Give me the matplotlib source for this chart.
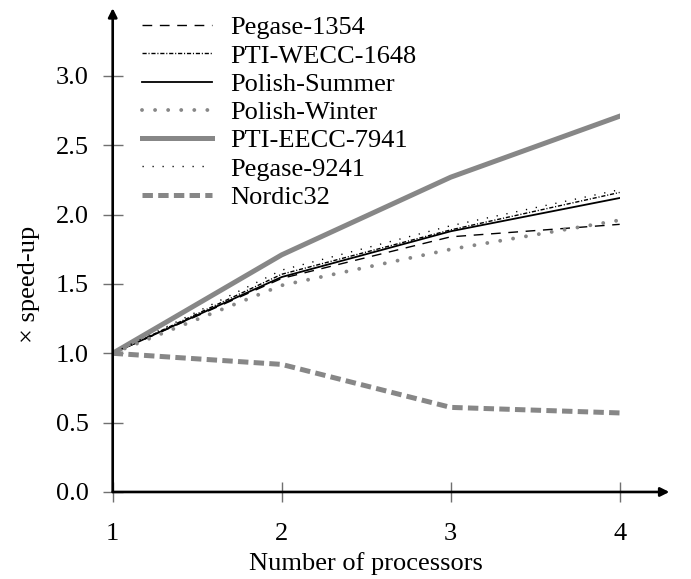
import matplotlib
matplotlib.use("Agg")
import matplotlib.pyplot as plt

plt.rcParams['font.family'] = ['Liberation Serif', 'DejaVu Serif']
plt.rcParams['lines.scale_dashes'] = False

procs = [1, 2, 3, 4]
pegase_1354 = [1.0, 1.54, 1.84, 1.93]
pti_wecc_1648 = [1.0, 1.57, 1.89, 2.16]
polish_summer = [1.0, 1.55, 1.88, 2.12]
polish_winter = [1.0, 1.49, 1.75, 1.96]
pti_eecc_7941 = [1.0, 1.71, 2.27, 2.71]
pegase_9241 = [1.0, 1.60, 1.92, 2.18]
nordic32 = [1.0, 0.92, 0.61, 0.57]

grey = '#878787'
fs = 19

fig = plt.figure(figsize=(6.91, 5.79), dpi=100)
ax = fig.add_axes([0.1631, 0.1503, 0.7337, 0.7185])

ax.plot(procs, pegase_1354, color='k', lw=1.0, ls=(0, (7, 5.5)), label='Pegase-1354')
ax.plot(procs, pti_wecc_1648, color='k', lw=1.0, ls=(0, (3, 1.3, 0.8, 1.3)), label='PTI-WECC-1648')
ax.plot(procs, polish_summer, color='k', lw=1.3, label='Polish-Summer')
ax.plot(procs, polish_winter, color=grey, lw=2.8, ls=(0, (0.01, 9.4)), dash_capstyle='round',
        label='Polish-Winter')
ax.plot(procs, pti_eecc_7941, color=grey, lw=3.6, label='PTI-EECC-7941')
ax.plot(procs, pegase_9241, color='k', lw=1.0, ls=(0, (0.9, 6.3)), label='Pegase-9241')
ax.plot(procs, nordic32, color=grey, lw=3.6, ls=(0, (7.5, 3.8)), label='Nordic32')

ax.set_xlim(1, 4)
ax.set_ylim(0, 3)
ax.set_xticks(procs)
ax.set_yticks([0, 0.5, 1.0, 1.5, 2.0, 2.5, 3.0])
ax.set_yticklabels(['0.0', '0.5', '1.0', '1.5', '2.0', '2.5', '3.0'])
ax.tick_params(direction='inout', length=15, width=1.0, color='#707070',
               labelsize=fs, pad=10)
ax.tick_params(axis='x', pad=15)

for s in ax.spines.values():
    s.set_visible(False)

# axis lines with arrow heads, running past the last tick
ax.annotate('', xy=(1.098, 0), xytext=(0, 0), xycoords='axes fraction',
            arrowprops=dict(arrowstyle='-|>', color='k', lw=1.9, mutation_scale=13,
                            shrinkA=0, shrinkB=0))
ax.annotate('', xy=(0, 1.163), xytext=(0, 0), xycoords='axes fraction',
            arrowprops=dict(arrowstyle='-|>', color='k', lw=1.9, mutation_scale=13,
                            shrinkA=0, shrinkB=0))

ax.set_xlabel('Number of processors', fontsize=fs)
ax.xaxis.set_label_coords(0.5, -0.145)
ax.set_ylabel('× speed-up', fontsize=fs)
ax.yaxis.set_label_coords(-0.143, 0.5)

ax.legend(loc='upper left', bbox_to_anchor=(142 / 691, 1 - 16 / 579),
          bbox_transform=fig.transFigure, frameon=False, fontsize=fs,
          handlelength=2.65, handletextpad=0.68, labelspacing=0.18,
          borderpad=0, borderaxespad=0)

fig.savefig('out.png', dpi=100)
